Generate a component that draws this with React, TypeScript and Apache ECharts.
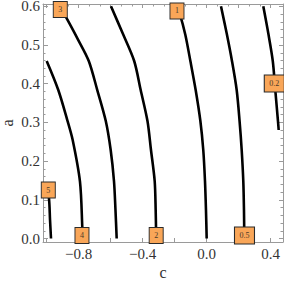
import React, { useEffect, useRef } from "react";
import * as echarts from "echarts";

// Axis ranges and ticks
const X_MIN = -1.023;
const X_MAX = 0.477;
const Y_MIN = -0.009;
const Y_MAX = 0.606;
const xLabelValues = [-0.8, -0.4, 0, 0.4];
const xTickValues = [-1, -0.8, -0.6, -0.4, -0.2, 0, 0.2, 0.4];
const yLabelValues = [0, 0.1, 0.2, 0.3, 0.4, 0.5, 0.6];

// Contour lines, [c, a]
const contour5 = [[-1.0, 0.135], [-0.9856, 0.1039], [-0.979, 0.0478], [-0.973, 0]];
const contour4 = [[-1.0, 0.4587], [-0.9275, 0.3837], [-0.8713, 0.3062], [-0.8375, 0.2545], [-0.7919, 0.1468], [-0.7775, 0.0305], [-0.776, 0]];
const contour3 = [[-0.92, 0.6], [-0.875, 0.569], [-0.8025, 0.5129], [-0.7369, 0.4587], [-0.6838, 0.3837], [-0.6306, 0.3036], [-0.6, 0.2287], [-0.5794, 0.1486], [-0.57, 0.0736], [-0.5625, 0]];
const contour2 = [[-0.5981, 0.6], [-0.525, 0.5302], [-0.4531, 0.4587], [-0.4125, 0.3837], [-0.37, 0.3036], [-0.3481, 0.2287], [-0.325, 0.1486], [-0.3188, 0.0736], [-0.3156, 0]];
const contour1 = [[-0.19, 0.6], [-0.1669, 0.5788], [-0.1338, 0.5271], [-0.1019, 0.4587], [-0.0688, 0.3837], [-0.0394, 0.3036], [-0.0213, 0.2287], [-0.0106, 0.1486], [-0.0044, 0.0736], [0, 0]];
const contour05 = [[0.0894, 0.6], [0.125, 0.5302], [0.1581, 0.4587], [0.1875, 0.3837], [0.2056, 0.3036], [0.2188, 0.2287], [0.2288, 0.1486], [0.2331, 0.0736], [0.235, 0]];
const contour02 = [[0.3538, 0.6], [0.385, 0.5302], [0.4131, 0.4587], [0.4288, 0.3837], [0.4456, 0.3036], [0.45, 0.2804]];

// Contour labels
const labelNames = ["5", "4", "3", "2", "1", "0.5", "0.2"];
const labelPos = [[-0.99, 0.1253], [-0.7794, 0.0078], [-0.915, 0.5917], [-0.3156, 0.0078], [-0.1856, 0.588], [0.2363, 0.0078], [0.4225, 0.4005]];

const SERIF = "Liberation Serif, DejaVu Serif, serif";
const FRAME = "#9a9a9a";

function fmt(v: number) {
  const s = Math.abs(v).toFixed(1);
  return v < -1e-9 ? "\u2212" + s : s;
}

export default function App() {
  const ref = useRef<HTMLDivElement>(null);
  useEffect(() => {
    if (!ref.current) return;
    const chart = echarts.init(ref.current, undefined, { renderer: "svg" });

    const xMinorTop: number[] = [];
    for (let i = 0; i < xTickValues.length - 1; i++) {
      const a = xTickValues[i], b = xTickValues[i + 1];
      xMinorTop.push(a + (b - a) / 3, a + (2 * (b - a)) / 3);
    }
    const yMinor: number[] = [];
    for (let i = 0; i < yLabelValues.length - 1; i++) {
      const a = yLabelValues[i], b = yLabelValues[i + 1];
      for (let k = 1; k < 5; k++) yMinor.push(a + ((b - a) * k) / 5);
    }

    const lineOn = { show: true, onZero: false, lineStyle: { color: FRAME, width: 1 } };
    const lineOff = { show: false, onZero: false };
    const baseX = { type: "value", min: X_MIN, max: X_MAX, splitLine: { show: false } };
    const baseY = { type: "value", min: Y_MIN, max: Y_MAX, splitLine: { show: false } };

    const contours = [contour5, contour4, contour3, contour2, contour1, contour05, contour02];

    chart.setOption({
      animation: false,
      grid: { left: 43, top: 4, width: 240, height: 238, containLabel: false, outerBoundsMode: "none" },
      xAxis: [
        {
          ...baseX,
          position: "bottom",
          axisLine: lineOn,
          axisTick: { show: true, inside: true, length: 4, customValues: xTickValues, lineStyle: { color: FRAME } },
          axisLabel: {
            show: true,
            customValues: xLabelValues,
            formatter: (v: number) => fmt(v),
            fontFamily: SERIF,
            fontSize: 15,
            lineHeight: 14,
            color: "#333",
            margin: 5,
          },
        },
        {
          ...baseX,
          position: "top",
          axisLine: lineOn,
          axisTick: { show: true, inside: true, length: 4, customValues: xTickValues, lineStyle: { color: FRAME } },
          axisLabel: { show: false },
        },
        {
          ...baseX,
          position: "top",
          axisLine: lineOff,
          axisTick: { show: true, inside: true, length: 2.5, customValues: xMinorTop, lineStyle: { color: FRAME } },
          axisLabel: { show: false },
        },
      ],
      yAxis: [
        {
          ...baseY,
          position: "left",
          axisLine: lineOn,
          axisTick: { show: true, inside: true, length: 5, customValues: yLabelValues, lineStyle: { color: FRAME } },
          axisLabel: {
            show: true,
            customValues: yLabelValues,
            formatter: (v: number) => fmt(v),
            fontFamily: SERIF,
            fontSize: 15,
            lineHeight: 12,
            color: "#333",
            margin: 3,
          },
        },
        {
          ...baseY,
          position: "left",
          axisLine: lineOff,
          axisTick: { show: true, inside: true, length: 2.5, customValues: yMinor, lineStyle: { color: FRAME } },
          axisLabel: { show: false },
        },
        {
          ...baseY,
          position: "right",
          axisLine: lineOn,
          axisTick: { show: true, inside: true, length: 4, customValues: yLabelValues, lineStyle: { color: FRAME } },
          axisLabel: { show: false },
        },
        {
          ...baseY,
          position: "right",
          axisLine: lineOff,
          axisTick: { show: true, inside: true, length: 2.5, customValues: yMinor, lineStyle: { color: FRAME } },
          axisLabel: { show: false },
        },
      ],
      graphic: [
        {
          type: "text",
          x: 163,
          y: 272.5,
          style: { text: "c", fontFamily: SERIF, fontSize: 16, lineHeight: 14, fill: "#333", textAlign: "center", textVerticalAlign: "middle" },
        },
        {
          type: "text",
          x: 7,
          y: 123,
          rotation: Math.PI / 2,
          style: { text: "a", fontFamily: SERIF, fontSize: 16, lineHeight: 12, fill: "#333", textAlign: "center", textVerticalAlign: "middle" },
        },
      ],
      series: [
        ...contours.map((d) => ({
          type: "line",
          data: d,
          xAxisIndex: 0,
          yAxisIndex: 0,
          smooth: 0.3,
          showSymbol: false,
          symbol: "none",
          silent: true,
          lineStyle: { color: "#000", width: 2.6 },
          z: 2,
        })),
        {
          type: "scatter",
          xAxisIndex: 0,
          yAxisIndex: 0,
          clip: false,
          silent: true,
          z: 5,
          symbol: "rect",
          data: labelNames.map((n, i) => ({
            name: n,
            value: labelPos[i],
            symbolSize: n.length > 1 ? [20, 17] : [14, 16],
          })),
          itemStyle: { color: "#f9a658", borderColor: "#2a2a2a", borderWidth: 1, opacity: 1 },
          label: {
            show: true,
            position: "inside",
            formatter: "{b}",
            fontFamily: SERIF,
            fontSize: 8,
            color: "#4a3a2a",
          },
        },
      ],
    });
    return () => chart.dispose();
  }, []);
  return <div ref={ref} style={{ position: "absolute", left: 0, top: 0, width: 284, height: 282 }} />;
}
